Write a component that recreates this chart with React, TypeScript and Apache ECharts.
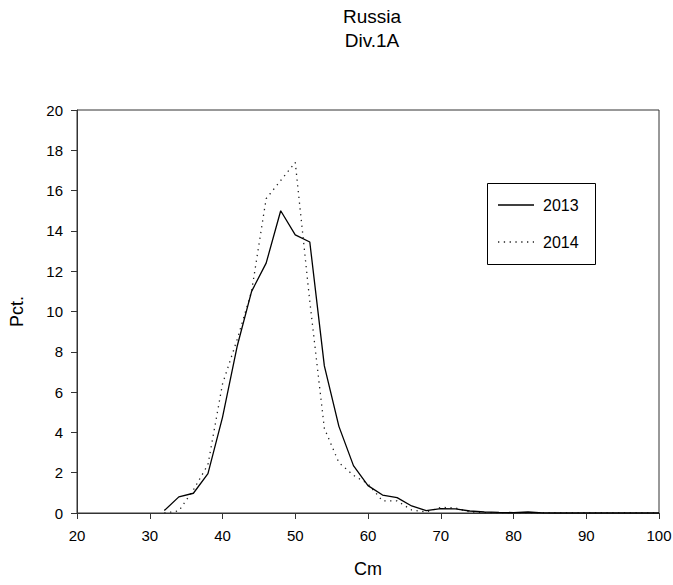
import React, { useEffect, useRef } from "react";
import * as echarts from "echarts";

const lengths2013 = [32, 34, 36, 38, 40, 42, 44, 46, 48, 50, 52, 54, 56, 58, 60, 62, 64, 66, 68, 70, 72, 74, 76, 78, 80, 82, 84, 86, 88, 90, 92, 94, 96, 98, 100];
const pct2013 = [0.12, 0.8, 0.98, 1.95, 4.75, 8.25, 11.0, 12.4, 15.0, 13.8, 13.45, 7.3, 4.3, 2.35, 1.36, 0.89, 0.76, 0.35, 0.12, 0.22, 0.2, 0.1, 0.05, 0.03, 0.02, 0.05, 0.01, 0, 0, 0, 0, 0, 0, 0, 0];
const lengths2014 = [32, 34, 36, 38, 40, 42, 44, 46, 48, 50, 52, 54, 56, 58, 60, 62, 64, 66, 68, 70, 72, 74, 76, 78, 80, 82, 84, 86, 88, 90, 92, 94, 96, 98, 100];
const pct2014 = [0, 0.1, 1.15, 2.4, 6.4, 8.6, 11.0, 15.6, 16.5, 17.4, 10.5, 4.2, 2.5, 1.87, 1.45, 0.6, 0.6, 0.15, 0.05, 0.28, 0.25, 0.05, 0.02, 0, 0, 0, 0, 0, 0, 0, 0, 0, 0, 0, 0];
const seriesNames = ["2013", "2014"];
const titleLines = ["Russia", "Div.1A"];
const xName = "Cm";
const yName = "Pct.";

const FONT = "'Liberation Sans', Arial, sans-serif";

export default function App() {
  const ref = useRef<HTMLDivElement>(null);
  useEffect(() => {
    if (!ref.current) return;
    const chart = echarts.init(ref.current, undefined, { renderer: "svg" });
    const axisColor = "#333";
    chart.setOption({
      animation: false,
      backgroundColor: "#fff",
      textStyle: { fontFamily: FONT },
      title: {
        text: titleLines.join("\n"),
        left: 367,
        top: -1,
        textAlign: "center",
        textStyle: { fontFamily: FONT, fontSize: 19, fontWeight: "normal", color: "#000", lineHeight: 24 },
      },
      grid: { left: 77, top: 110, width: 582, height: 403, show: true, borderColor: axisColor, borderWidth: 1, backgroundColor: "transparent", containLabel: false, outerBoundsMode: "none" },
      xAxis: {
        type: "value",
        min: 20,
        max: 100,
        interval: 10,
        name: xName,
        nameLocation: "middle",
        nameGap: 47,
        nameTextStyle: { fontFamily: FONT, fontSize: 18, color: "#000" },
        axisLine: { show: true, lineStyle: { color: axisColor, width: 1 } },
        axisTick: { show: true, inside: false, length: 6, lineStyle: { color: axisColor } },
        axisLabel: { fontFamily: FONT, fontSize: 15, color: "#000", margin: 15 },
        splitLine: { show: false },
      },
      yAxis: {
        type: "value",
        min: 0,
        max: 20,
        interval: 2,
        name: yName,
        nameLocation: "middle",
        nameGap: 51,
        nameRotate: 90,
        nameTextStyle: { fontFamily: FONT, fontSize: 18, color: "#000" },
        axisLine: { show: true, lineStyle: { color: axisColor, width: 1 } },
        axisTick: { show: true, inside: false, length: 6, lineStyle: { color: axisColor } },
        axisLabel: { fontFamily: FONT, fontSize: 15, color: "#000", margin: 14 },
        splitLine: { show: false },
      },
      series: [
        {
          name: seriesNames[0],
          type: "line",
          data: lengths2013.map((x, i) => [x, pct2013[i]]),
          showSymbol: false,
          lineStyle: { color: "#000", width: 1.3, type: "solid" },
          z: 3,
        },
        {
          name: seriesNames[1],
          type: "line",
          data: lengths2014.map((x, i) => [x, pct2014[i]]),
          showSymbol: false,
          lineStyle: { color: "#222", width: 1.3, type: [1.3, 4.5] },
          z: 2,
        },
      ],
      graphic: [
        { type: "rect", shape: { x: 487.5, y: 183.5, width: 108, height: 81 }, style: { fill: "#fff", stroke: "#000", lineWidth: 1 } },
        { type: "line", shape: { x1: 498, y1: 205, x2: 534, y2: 205 }, style: { stroke: "#000", lineWidth: 1.3 } },
        { type: "text", x: 543, y: 205, style: { text: seriesNames[0], font: `16px ${FONT}`, fill: "#000", verticalAlign: "middle" } },
        { type: "line", shape: { x1: 498, y1: 242, x2: 534, y2: 242 }, style: { stroke: "#222", lineWidth: 1.3, lineDash: [1.3, 4.5] } },
        { type: "text", x: 543, y: 242, style: { text: seriesNames[1], font: `16px ${FONT}`, fill: "#000", verticalAlign: "middle" } },
      ],
    });
    return () => chart.dispose();
  }, []);
  return <div ref={ref} style={{ position: "fixed", left: 0, top: 0, width: 673, height: 585 }} />;
}
